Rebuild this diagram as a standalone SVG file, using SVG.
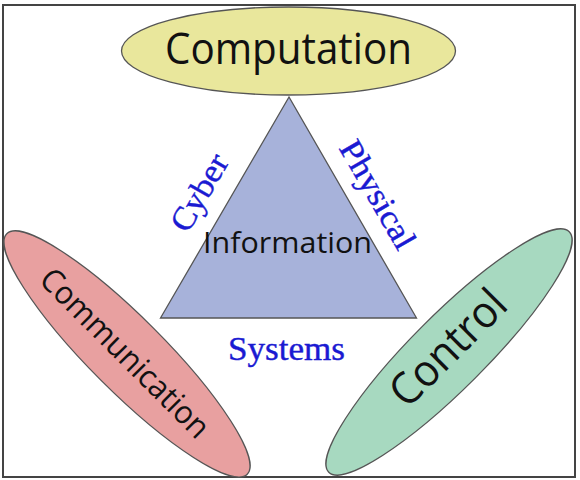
<svg xmlns="http://www.w3.org/2000/svg" width="580" height="480" viewBox="0 0 580 480">
<style>
.node{stroke:#555;stroke-width:1.3}
.lbl{font-family:"Open Sans","Noto Sans","Liberation Sans",sans-serif;fill:#111;text-anchor:middle}
.edge{font-family:"Liberation Serif","DejaVu Serif",serif;fill:#1a1ad2;stroke:#1a1ad2;stroke-width:0.4;text-anchor:middle;font-size:33px}
</style>
<rect x="0" y="0" width="580" height="480" fill="#fff"/>
<rect id="frame" x="3" y="5" width="572" height="472" fill="#fff" stroke="#444" stroke-width="2"/>
<g id="information">
<polygon class="node" points="289,97 160.5,318 416.5,318" fill="#a7b2da"/>
<text class="lbl" x="287.5" y="253" font-size="29" textLength="169" lengthAdjust="spacingAndGlyphs">Information</text>
</g>
<g id="computation">
<ellipse class="node" cx="288.5" cy="51" rx="167" ry="44" fill="#e9e79c"/>
<text class="lbl" x="288.5" y="64" font-size="44" textLength="247" lengthAdjust="spacingAndGlyphs">Computation</text>
</g>
<g id="communication">
<ellipse class="node" cx="127" cy="354" rx="170" ry="37" transform="rotate(45 127 354)" fill="#e8a0a0"/>
<text class="lbl" transform="translate(125,353) rotate(45)" x="0" y="11" font-size="32" textLength="225" lengthAdjust="spacingAndGlyphs">Communication</text>
</g>
<g id="control">
<ellipse class="node" cx="449" cy="352" rx="170" ry="37" transform="rotate(-45 449 352)" fill="#a7d9c0"/>
<text class="lbl" transform="translate(448,348) rotate(-45)" x="0" y="15" font-size="44" textLength="145" lengthAdjust="spacingAndGlyphs">Control</text>
</g>
<g id="connectors">
<text class="edge" transform="translate(200,193) rotate(-60)" x="0" y="10" textLength="84" lengthAdjust="spacingAndGlyphs">Cyber</text>
<text class="edge" transform="translate(377,195) rotate(60)" x="0" y="10" textLength="120" lengthAdjust="spacingAndGlyphs">Physical</text>
<text class="edge" x="286.5" y="360" textLength="117" lengthAdjust="spacingAndGlyphs">Systems</text>
</g>
</svg>
